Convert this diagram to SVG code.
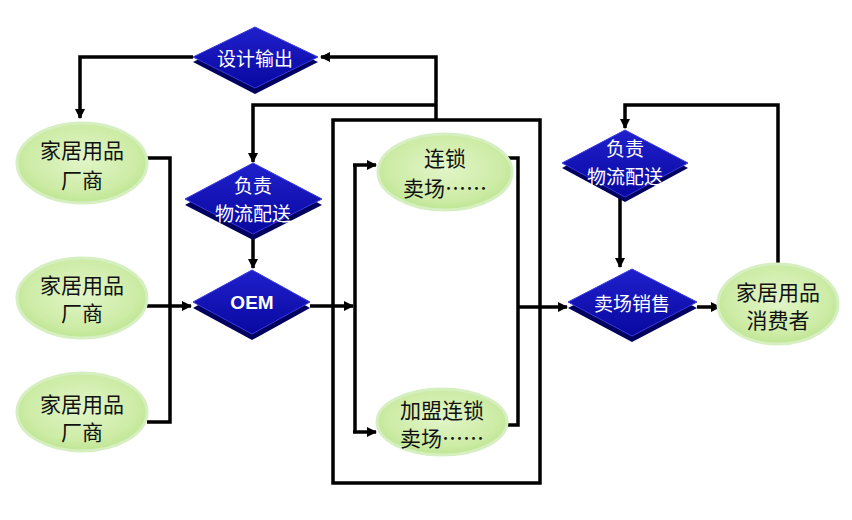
<svg xmlns="http://www.w3.org/2000/svg" width="852" height="520" viewBox="0 0 852 520">
<defs>
<radialGradient id="eg" cx="50%" cy="45%" r="60%">
<stop offset="0" stop-color="#e2f5c8"/>
<stop offset="0.7" stop-color="#cdeca6"/>
<stop offset="1" stop-color="#b9e38c"/>
</radialGradient>
<linearGradient id="dg" x1="0" y1="0" x2="0" y2="1">
<stop offset="0" stop-color="#2020cc"/>
<stop offset="1" stop-color="#0808a0"/>
</linearGradient>
<marker id="ah" markerWidth="10" markerHeight="10" refX="9" refY="5" orient="auto" markerUnits="userSpaceOnUse">
<path d="M0,0 L10,5 L0,10 z" fill="#000"/>
</marker>
</defs>
<style>
.ell{fill:url(#eg);stroke:#d6efc0;stroke-width:3}
.et{font-family:"Noto Sans CJK SC",sans-serif;font-size:21px;fill:#111;text-anchor:middle;dominant-baseline:central}
.dt{font-family:"Noto Sans CJK SC",sans-serif;font-size:19px;fill:#fff;text-anchor:middle;dominant-baseline:central}
.ot{font-family:"Liberation Sans",Arial,sans-serif;font-size:19px;font-weight:bold;fill:#fff;text-anchor:middle;dominant-baseline:central}
.sh{fill:#00005e}
.top{fill:url(#dg);stroke:#3a3ae0;stroke-width:1}
.ln{fill:none;stroke:#000;stroke-width:3.5}
.ar{fill:none;stroke:#000;stroke-width:3.5;marker-end:url(#ah)}
</style>
<rect width="852" height="520" fill="#fff"/>

<g id="connectors">
<rect x="333" y="120" width="207" height="363" class="ln"/>
<polyline points="436,120 436,57 321,57" class="ar"/>
<polyline points="193,57 80,57 80,118" class="ar"/>
<polyline points="436,105 253,105 253,162" class="ar"/>
<polyline points="253,236 253,268" class="ar"/>
<polyline points="147,158 170,158 170,422 147,422" class="ln"/>
<polyline points="147,306 191,306" class="ar"/>
<polyline points="310,306 353,306" class="ar"/>
<polyline points="355,165 355,432" class="ln"/>
<polyline points="353,165 376,165" class="ar"/>
<polyline points="353,432 376,432" class="ar"/>
<polyline points="495,158 518,158 518,425 495,425" class="ln"/>
<polyline points="518,307 567,307" class="ar"/>
<polyline points="697,307 720,307" class="ar"/>
<polyline points="778,264 778,105 625,105 625,128" class="ar"/>
<polyline points="620,198 620,267" class="ar"/>
</g>

<g id="design">
<polygon points="193,62 255,32 318,62 255,94" class="sh"/>
<polygon points="193,57 255,27 318,57 255,88" class="top"/>
<text x="255" y="57" class="dt">设计输出</text>
</g>

<g id="logistics-left">
<polygon points="185,205 253,168 322,205 253,240" class="sh"/>
<polygon points="185,199 253,163 322,199 253,234" class="top"/>
<text x="253" y="184" class="dt">负责</text>
<text x="253" y="212" class="dt">物流配送</text>
</g>

<g id="oem">
<polygon points="193,308 252,275 310,308 252,340" class="sh"/>
<polygon points="193,302 252,270 310,302 252,334" class="top"/>
<text x="252" y="302" class="ot">OEM</text>
</g>

<g id="maker1">
<ellipse cx="82" cy="163" rx="65" ry="40" class="ell"/>
<text x="82" y="149" class="et">家居用品</text>
<text x="82" y="179" class="et">厂商</text>
</g>
<g id="maker2">
<ellipse cx="82" cy="298" rx="65" ry="40" class="ell"/>
<text x="82" y="284" class="et">家居用品</text>
<text x="82" y="312" class="et">厂商</text>
</g>
<g id="maker3">
<ellipse cx="82" cy="412" rx="65" ry="39" class="ell"/>
<text x="82" y="403" class="et">家居用品</text>
<text x="82" y="431" class="et">厂商</text>
</g>

<g id="chain">
<ellipse cx="445" cy="172" rx="67" ry="38" class="ell"/>
<text x="445" y="157" class="et">连锁</text>
<text x="445" y="187" class="et">卖场……</text>
</g>
<g id="franchise">
<ellipse cx="442" cy="422" rx="65" ry="33" class="ell"/>
<text x="442" y="409" class="et">加盟连锁</text>
<text x="442" y="437" class="et">卖场……</text>
</g>

<g id="logistics-right">
<polygon points="562,168 625,135 688,168 625,202" class="sh"/>
<polygon points="562,163 625,130 688,163 625,197" class="top"/>
<text x="625" y="147" class="dt">负责</text>
<text x="625" y="175" class="dt">物流配送</text>
</g>

<g id="sales">
<polygon points="568,308 632,275 697,308 632,342" class="sh"/>
<polygon points="568,302 632,269 697,302 632,336" class="top"/>
<text x="632" y="302" class="dt">卖场销售</text>
</g>

<g id="consumer">
<ellipse cx="778" cy="304" rx="60" ry="40" class="ell"/>
<text x="778" y="291" class="et">家居用品</text>
<text x="778" y="319" class="et">消费者</text>
</g>
</svg>
